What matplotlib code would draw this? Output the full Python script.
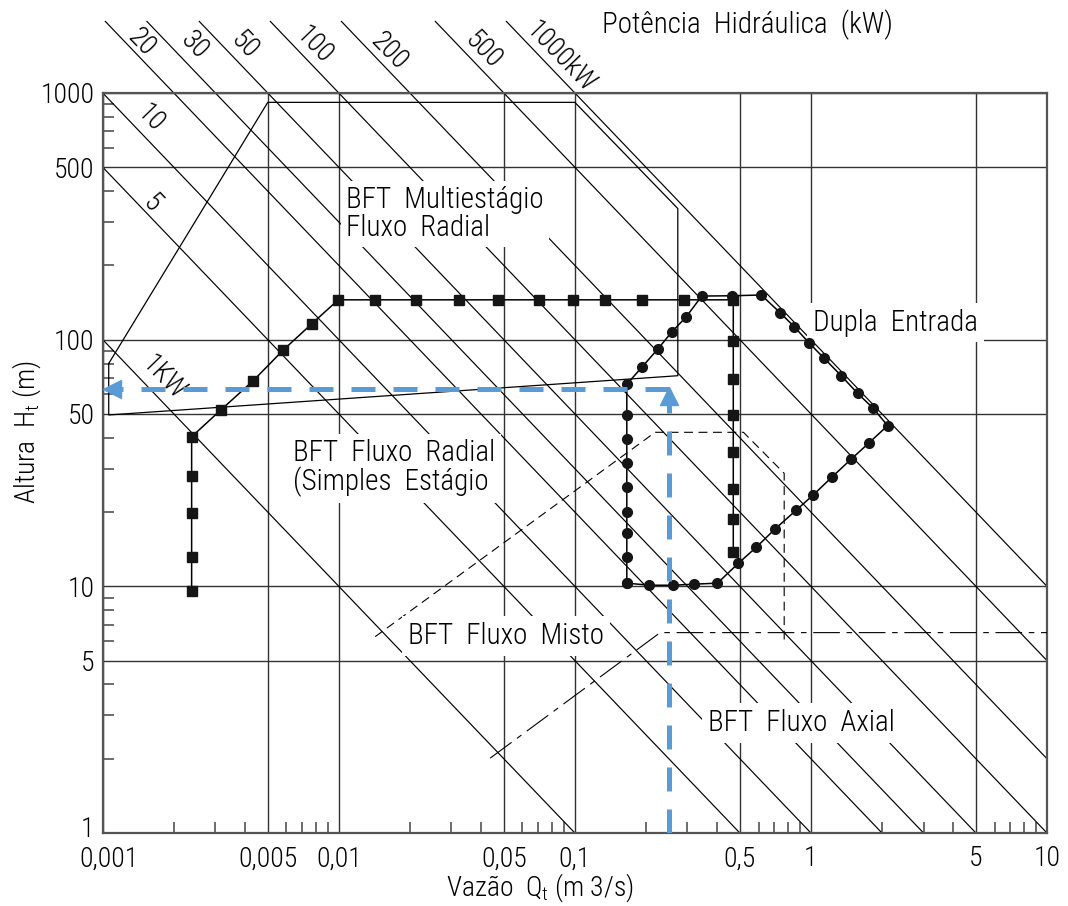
import numpy as np
import matplotlib
matplotlib.use('Agg')
import matplotlib.pyplot as plt
import matplotlib.transforms as mtransforms
from matplotlib.ticker import LogLocator, NullFormatter

plt.rcParams['font.family'] = ['Roboto Condensed', 'DejaVu Sans']
plt.rcParams['font.weight'] = 'light'
plt.rcParams['mathtext.fontset'] = 'custom'
plt.rcParams['mathtext.rm'] = 'Roboto Condensed:light'
plt.rcParams['mathtext.it'] = 'Roboto Condensed:light'

# potencia hidraulica (kW) -> linhas H*Q = P/10
potencias = [1, 5, 10, 20, 30, 50, 100, 200, 500, 1000]
pot_labels = ['1KW', '5', '10', '20', '30', '50', '100', '200', '500', '1000kW']

x_ticks = [0.001, 0.005, 0.01, 0.05, 0.1, 0.5, 1, 5, 10]
x_ticklabels = ['0,001', '0,005', '0,01', '0,05', '0,1', '0,5', '1', '5', '10']
y_ticks = [1, 5, 10, 50, 100, 500, 1000]
y_ticklabels = ['1', '5', '10', '50', '100', '500', '1000']

# BFT multiestagio fluxo radial (linha fina)
multi_q = [0.00106, 0.005, 0.1, 0.273, 0.273, 0.00106, 0.00106]
multi_h = [80, 916, 916, 340, 71.4, 49.5, 80]

# BFT fluxo radial simples estagio (quadrados)
radial_q = [0.00238, 0.00238, 0.00238, 0.00238, 0.00238,
            0.00316, 0.00433, 0.00582, 0.00769, 0.00995,
            0.0143, 0.0213, 0.0324, 0.0474, 0.0703, 0.0979, 0.134, 0.192, 0.289,
            0.469, 0.469, 0.469, 0.469, 0.469, 0.469, 0.469, 0.469]
radial_h = [9.6, 13.1, 19.8, 28.0, 40.4,
            51.8, 68, 90.8, 116, 145,
            145, 145, 145, 145, 145, 145, 145, 145, 145,
            145, 99, 69.2, 49.5, 35.1, 24.9, 18.7, 13.8]

# dupla entrada (circulos)
dupla_q = [0.166, 0.166, 0.166, 0.166, 0.166, 0.166, 0.166, 0.166, 0.166,
           0.192, 0.224, 0.258, 0.295, 0.345,
           0.465, 0.616,
           0.741, 0.850, 0.981, 1.135, 1.344, 1.576, 1.837, 2.112,
           1.766, 1.477, 1.227, 1.020, 0.864, 0.706, 0.587, 0.493, 0.402,
           0.320, 0.260, 0.207, 0.166]
dupla_h = [10.3, 13.2, 16.4, 20.1, 25.2, 31.7, 39.4, 49.5, 65.9,
           77.2, 91.3, 107.7, 123.1, 150.2,
           150.6, 151.7,
           128.5, 112.8, 97.1, 84.2, 71.4, 60.6, 52.7, 44.8,
           38.2, 32.7, 27.7, 23.4, 20.3, 17.1, 14.4, 12.4, 10.3,
           10.2, 10.1, 10.1, 10.3]

# BFT fluxo misto (tracejado)
misto_q = [0.01426, 0.2188, 0.518, 0.7706, 0.7706]
misto_h = [6.25, 42.1, 42.1, 28.7, 5.78]

# BFT fluxo axial (traco-ponto)
axial_q = [0.04376, 0.2298, 10]
axial_h = [2.01, 6.49, 6.49]

# ponto de operacao (setas azuis)
q_op = 0.25
h_op = 63

fig = plt.figure(figsize=(10.68, 9.06), dpi=100)
ax = fig.add_axes([0.0962, 0.0806, 0.8841, 0.8168])
ax.set_xscale('log')
ax.set_yscale('log')
ax.set_xlim(0.001, 10)
ax.set_ylim(1, 1000)

ax.set_xticks(x_ticks, x_ticklabels)
ax.set_yticks(y_ticks, y_ticklabels)
ax.xaxis.set_minor_locator(LogLocator(subs=(2, 3, 4, 6, 7, 8, 9), numticks=50))
ax.yaxis.set_minor_locator(LogLocator(subs=(2, 3, 4, 6, 7, 8, 9), numticks=50))
ax.xaxis.set_minor_formatter(NullFormatter())
ax.yaxis.set_minor_formatter(NullFormatter())
ax.tick_params(which='major', length=0, labelsize=20)
ax.tick_params(axis='x', which='major', pad=9)
ax.tick_params(axis='y', which='major', pad=6)
ax.tick_params(which='minor', direction='in', length=8, width=1.1, color='#444444')
ax.grid(True, which='major', color='#333333', lw=1.0)
for s in ax.spines.values():
    s.set_color('#555555')
    s.set_linewidth(1.6)

# afasta um pouco os rotulos do canto (0,001 e 1)
lbl_x0 = ax.get_xticklabels()[0]
lbl_x0.set_transform(lbl_x0.get_transform()
                     + mtransforms.ScaledTranslation(6 / 100, 0, fig.dpi_scale_trans))
lbl_y0 = ax.get_yticklabels()[0]
lbl_y0.set_transform(lbl_y0.get_transform()
                     + mtransforms.ScaledTranslation(0, 6 / 100, fig.dpi_scale_trans))

# linhas de potencia, saem por cima dos eixos
h_top = 1950
for p in potencias:
    q0 = max(0.001, p / (10 * h_top))
    q1 = min(10, p / 10)
    ax.plot([q0, q1], [p / (10 * q0), p / (10 * q1)], color='k', lw=0.85,
            clip_on=False, zorder=2)

# rotulos das potencias (fracao dos eixos)
pot_pos = {'1KW': (0.0639, 0.6149), '5': (0.0522, 0.850), '10': (0.0501, 0.9649),
           '20': (0.0406, 1.0676), '30': (0.0967, 1.0635), '50': (0.1507, 1.0635),
           '100': (0.2238, 1.0649), '200': (0.3032, 1.0568), '500': (0.4027, 1.0581),
           '1000kW': (0.4843, 1.0486)}
for lab in pot_labels:
    x, y = pot_pos[lab]
    ax.text(x, y, lab, transform=ax.transAxes, rotation=-46, rotation_mode='anchor',
            ha='center', va='center', fontsize=20, zorder=3)

ax.text(0.6823, 1.0919, 'Potência  Hidráulica  (kW)', transform=ax.transAxes,
        ha='center', va='center', fontsize=21)

# regioes
ax.plot(multi_q, multi_h, color='k', lw=0.9, zorder=3)
ax.plot(radial_q, radial_h, color='k', lw=1.1, marker='s', ms=6.5,
        mfc='#151515', mec='#151515', zorder=4)
ax.plot(dupla_q, dupla_h, color='k', lw=1.1, marker='o', ms=7,
        mfc='#151515', mec='#151515', zorder=4)
ax.plot(misto_q, misto_h, color='k', lw=0.8, ls=(0, (8, 5)), zorder=3)
ax.plot(axial_q, axial_h, color='k', lw=0.8, ls=(0, (24, 6, 5, 6)), zorder=3)

# setas azuis
blue = '#5b9bd5'
ax.plot([q_op, q_op], [1, 59], color=blue, lw=3.6, ls=(0, (4.8, 3.6)), zorder=6)
ax.plot([q_op, 0.00112], [h_op, h_op], color=blue, lw=3.6, ls=(0, (4.8, 3.6)), zorder=6)
ax.plot([q_op], [59], marker='^', ms=13, color=blue, mec=blue, zorder=6)
ax.plot([0.001095], [h_op], marker='<', ms=13, color=blue, mec=blue, zorder=6,
        clip_on=False)

# textos das regioes (fundo branco interrompe as linhas)
box = dict(facecolor='white', edgecolor='none', pad=4)
region_txt = [('BFT  Multiestágio\nFluxo  Radial', 0.2577, 0.8365),
              ('Dupla  Entrada', 0.7522, 0.6892),
              ('BFT  Fluxo  Radial\n(Simples  Estágio', 0.2015, 0.4932),
              ('BFT  Fluxo  Misto', 0.3233, 0.2662),
              ('BFT  Fluxo  Axial', 0.6410, 0.1486)]
for s, x, y in region_txt:
    ax.text(x, y, s, transform=ax.transAxes, ha='left', va='center', fontsize=21,
            linespacing=0.98, bbox=box, zorder=3.5)

fig.text(540 / 1068, 1 - 888 / 906, r'Vazão  Q$_\mathrm{t}$ (m 3/s)', ha='center',
         va='center', fontsize=20)
fig.text(27 / 1068, 1 - 432 / 906, r'Altura  H$_\mathrm{t}$ (m)', rotation=90,
         ha='center', va='center', fontsize=20)

fig.savefig('out.png', dpi=100)
